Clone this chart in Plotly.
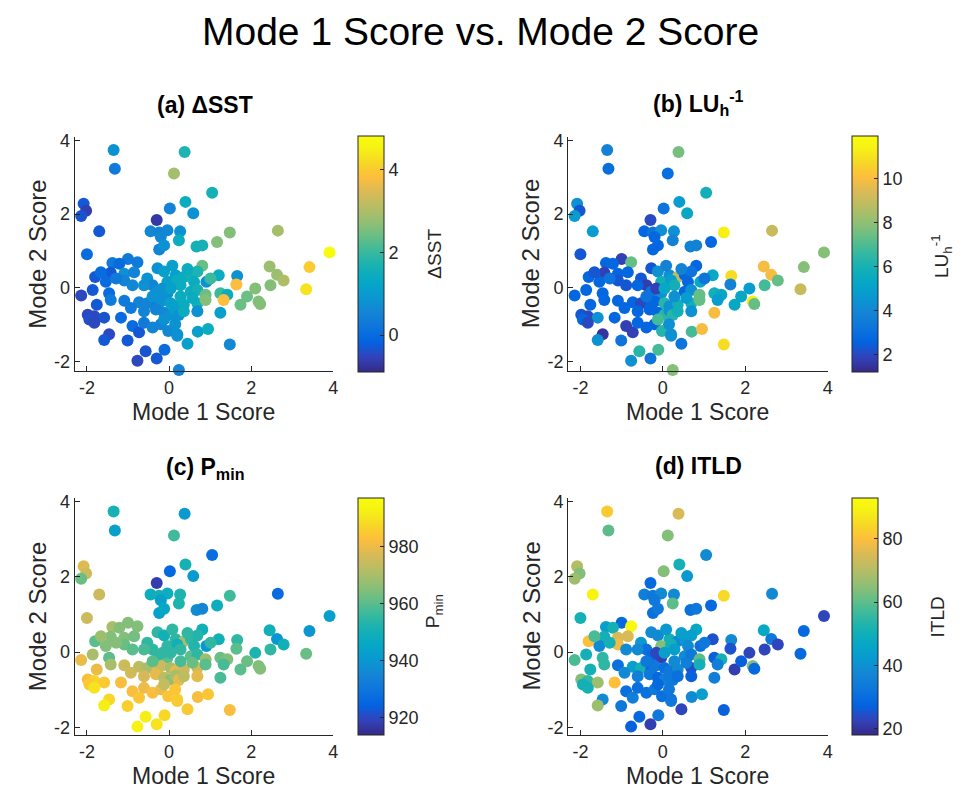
import plotly.graph_objects as go

# ---------------- data ----------------
mode1 = [-1.35, -1.32, 0.38, 0.12, 1.05, 0.40, -2.08, -2.02, -2.14, 0.02,
         0.59, -0.30, -1.70, 1.48, 2.65, -0.45, -0.24, -0.04, 0.27, -0.20,
         0.24, 1.17, 0.67, 0.81, -0.24, -0.12, 3.91, -2.00, -1.00, -0.77,
         -1.38, -1.21, 0.81, 3.42, 2.45, -0.28, -1.42, -1.09, -0.85, -0.12,
         0.16, 0.36, 0.53, 0.69, 1.21, 1.66, 2.63, 2.79, -1.80, -1.54,
         -1.09, -0.53, -0.40, -0.04, 0.20, 0.28, 0.61, 0.91, 1.64, 2.10,
         2.47, 3.34, -1.86, -2.31, -2.14, -1.46, -0.28, -0.04, 0.53, 0.69,
         0.89, 1.25, 1.42, -1.42, -1.09, -0.73, -0.53, -0.28, -0.20, 0.04,
         0.16, 0.36, 0.69, 0.89, 1.33, 1.74, 2.18, 2.22, -1.98, -1.82,
         -1.58, -1.17, -0.93, -0.32, -0.12, 0.04, 0.16, 0.24, 0.36, 0.69,
         1.25, -1.94, -1.82, -0.89, -0.73, -0.61, -0.40, -0.20, -0.12, -0.02,
         0.20, 0.15, 0.70, 0.95, -1.46, -1.58, -1.01, 0.20, 0.45, 1.48,
         -0.57, -0.11, -0.77, -0.30, 0.24, -1.66, -0.61, 0.08, 0.45, -0.40,
         -0.16, -1.29, -0.89, 1.01, 1.90, -1.76, 0.04, 0.28, 0.57, -0.61]

mode2 = [3.74, 3.23, 3.68, 3.10, 2.58, 2.33, 2.28, 2.09, 1.95, 2.15,
         2.02, 1.84, 1.53, 1.50, 1.55, 1.53, 1.50, 1.56, 1.53, 1.38,
         1.29, 1.24, 1.12, 1.15, 1.04, 1.15, 0.96, 0.91, 0.78, 0.69,
         0.67, 0.65, 0.60, 0.56, 0.58, 0.53, 0.41, 0.38, 0.42, 0.44,
         0.34, 0.29, 0.35, 0.44, 0.34, 0.32, 0.35, 0.20, 0.29, 0.16,
         0.20, 0.25, 0.07, 0.16, 0.20, 0.07, 0.16, 0.16, 0.09, -0.02,
         0.07, -0.04, -0.06, -0.15, -0.21, -0.15, -0.11, -0.15, -0.11, -0.06,
         -0.19, -0.15, -0.19, -0.33, -0.35, -0.39, -0.42, -0.46, -0.37, -0.42,
         -0.50, -0.46, -0.42, -0.33, -0.33, -0.46, -0.37, -0.44, -0.73, -0.77,
         -0.81, -0.81, -0.55, -0.59, -0.68, -0.73, -0.62, -0.74, -0.64, -0.64,
         -0.68, -0.86, -0.95, -1.04, -1.21, -0.95, -1.08, -0.99, -0.86, -1.17,
         -1.26, -0.99, -1.19, -1.12, -1.26, -1.42, -1.43, -1.30, -1.52, -1.54,
         -1.72, -1.68, -1.98, -1.92, -2.23, 0.42, 0.07, 0.60, 0.51, -0.24,
         -0.02, 0.25, 0.07, 0.25, -0.24, -0.46, -0.02, -0.24, -0.28, -0.64]

dsst = [0.8, 0.3, 1.7, 2.9, 1.6, 1.4, -0.3, -0.6, -0.35, 0.5,
        0.8, -0.7, -0.3, 2.6, 2.9, 0.6, 0.5, 0.6, 0.8, 0.6,
        1.4, 2.6, 1.6, 1.6, 0.5, 0.8, 4.8, 0.0, 0.3, 0.3,
        0.3, 0.0, 2.4, 4.0, 2.8, 0.8, -0.3, 0.8, 0.5, 1.1,
        1.1, 1.4, 1.6, 1.7, 1.4, 0.8, 2.8, 3.0, -0.3, 0.0,
        0.5, 0.8, 0.5, 1.1, 1.4, 1.4, 1.4, 0.8, 3.8, 2.6,
        2.6, 4.3, -0.3, 0.0, -0.5, 0.0, 0.8, 0.8, 1.4, 1.6,
        2.4, 2.0, 1.4, 0.3, 0.3, 0.5, 0.5, 0.3, 0.8, 1.1,
        1.1, 1.4, 1.6, 2.6, 3.8, 2.4, 2.6, 2.6, -0.5, -0.5,
        -0.35, 0.0, 0.3, 0.5, 0.6, 0.8, 1.1, 0.8, 1.4, 0.8,
        1.1, -0.4, -0.5, 0.0, -0.3, 0.3, 0.5, 0.5, 0.8, 0.6,
        0.8, 0.8, 1.1, 1.4, -0.5, -0.3, -0.3, 0.8, 1.1, 0.6,
        -0.35, 0.0, -0.5, -0.3, 0.5, 0.0, 0.8, 1.1, 1.4, 0.8,
        0.8, 0.3, 0.6, 2.0, 2.4, -0.3, 1.1, 1.4, 1.4, 0.5]

lu_inv = [3.8, 3.0, 7.6, 3.0, 5.8, 4.8, 4.3, 2.3, 4.8, 3.2,
          5.3, 2.0, 4.8, 11.3, 9.0, 2.7, 3.2, 4.3, 4.3, 2.7,
          3.8, 2.7, 3.8, 3.8, 2.7, 2.7, 7.8, 2.3, 1.8, 7.3,
          2.7, 2.7, 2.7, 7.8, 9.9, 2.3, 1.8, 2.7, 2.7, 4.3,
          4.3, 8.8, 2.7, 3.2, 5.3, 10.8, 9.9, 7.3, 2.7, 2.7,
          2.3, 2.3, 1.7, 5.8, 4.8, 5.8, 2.7, 5.3, 3.8, 4.8,
          6.8, 9.0, 2.7, 1.8, 2.7, 2.7, 3.2, 4.3, 2.7, 4.3,
          7.3, 5.8, 5.3, 2.7, 2.7, 2.7, 2.0, 2.7, 2.7, 6.3,
          4.3, 5.8, 5.8, 7.3, 4.8, 5.3, 11.3, 7.3, 2.3, 2.0,
          4.3, 2.7, 2.7, 2.7, 2.7, 6.3, 4.3, 6.3, 5.8, 4.3,
          9.9, 2.7, 2.0, 1.8, 1.8, 2.7, 2.7, 2.7, 6.8, 6.3,
          4.3, 4.3, 6.8, 9.9, 1.5, 4.3, 3.2, 4.3, 3.2, 10.8,
          6.3, 6.8, 4.3, 3.2, 7.8, 2.3, 2.7, 3.8, 3.8, 3.2,
          1.8, 3.2, 2.3, 3.2, 5.3, 2.7, 5.3, 4.3, 4.8, 2.7]

pmin = [951, 943, 941, 957, 928, 951, 978, 975, 962, 926,
        941, 918, 975, 957, 927, 948, 950, 948, 952, 943,
        952, 948, 937, 935, 943, 946, 943, 975, 965, 965,
        970, 965, 950, 940, 950, 955, 965, 965, 963, 950,
        955, 970, 955, 953, 950, 955, 940, 950, 960, 965,
        962, 955, 955, 955, 950, 955, 953, 940, 960, 952,
        955, 962, 970, 975, 980, 960, 955, 960, 960, 955,
        968, 962, 965, 970, 975, 973, 970, 979, 975, 970,
        979, 975, 976, 960, 958, 960, 965, 965, 982, 987,
        985, 982, 976, 979, 973, 966, 970, 979, 973, 979,
        958, 985, 990, 982, 984, 980, 982, 980, 974, 984,
        986, 984, 982, 984, 988, 992, 986, 985, 985, 982,
        992, 988, 993, 990, 995, 968, 958, 955, 955, 960,
        955, 965, 960, 955, 962, 980, 955, 958, 962, 977]

itld = [82, 60, 75, 64, 38, 51, 70, 64, 67, 64,
        42, 29, 90, 85, 38, 35, 33, 38, 38, 33,
        60, 29, 31, 33, 31, 33, 23, 51, 29, 92,
        44, 51, 47, 29, 47, 38, 51, 75, 75, 38,
        51, 38, 42, 44, 25, 38, 33, 23, 80, 38,
        78, 42, 31, 64, 51, 44, 38, 31, 25, 23,
        23, 29, 51, 82, 58, 55, 29, 22, 38, 33,
        60, 27, 51, 55, 31, 44, 51, 29, 33, 31,
        33, 38, 25, 51, 35, 22, 64, 29, 64, 55,
        67, 80, 38, 33, 29, 35, 33, 33, 31, 27,
        35, 51, 51, 31, 35, 31, 31, 33, 29, 31,
        31, 33, 38, 44, 38, 67, 33, 33, 23, 27,
        29, 33, 27, 22, 29, 58, 38, 42, 44, 33,
        23, 51, 38, 33, 27, 51, 44, 38, 35, 35]

tick_vals = [-2, 0, 2, 4]
tick_text = ["-2", "0", "2", "4"]

panel_titles = ["<b>(a) ΔSST</b>", "<b>(b) LU<sub>h</sub><sup>-1</sup></b>",
                "<b>(c) P<sub>min</sub></b>", "<b>(d) ITLD</b>"]
cbar_titles = ["ΔSST", "LU<sub>h</sub><sup>-1</sup>", "P<sub>min</sub>", "ITLD"]
cbar_ticks = [[0, 2, 4], [2, 4, 6, 8, 10], [920, 940, 960, 980], [20, 40, 60, 80]]
cbar_ranges = [(-0.9, 4.8), (1.2, 11.9), (914, 997), (18, 93)]
color_data = [dsst, lu_inv, pmin, itld]
x_label = "Mode 1 Score"
y_label = "Mode 2 Score"

# MATLAB parula colormap (sampled)
parula = [
    [0.000, "rgb(53,42,135)"],
    [0.063, "rgb(50,67,186)"],
    [0.127, "rgb(3,99,225)"],
    [0.190, "rgb(13,117,220)"],
    [0.254, "rgb(20,133,212)"],
    [0.317, "rgb(9,152,209)"],
    [0.381, "rgb(6,167,198)"],
    [0.444, "rgb(21,177,180)"],
    [0.508, "rgb(56,185,158)"],
    [0.571, "rgb(101,190,134)"],
    [0.635, "rgb(146,191,115)"],
    [0.698, "rgb(183,189,100)"],
    [0.762, "rgb(217,186,86)"],
    [0.825, "rgb(253,190,61)"],
    [0.889, "rgb(247,216,38)"],
    [0.952, "rgb(246,243,19)"],
    [1.000, "rgb(249,251,14)"],
]

# ---------------- layout geometry (pixels) ----------------
W, H = 967, 810
FONT = "Liberation Sans, Arial, Helvetica, sans-serif"
AX = "#262626"


def fx(p):
    return p / W


def fy(p):
    return 1 - p / H


# (left, right, top, bottom) of each axes box in pixels
boxes = [(75, 335, 132, 369), (571, 832, 132, 369),
         (75, 335, 497, 737), (571, 832, 497, 737)]
yranges = [[-2.27, 4.08], [-2.27, 4.08], [-2.2, 4.1], [-2.2, 4.1]]
cbar_boxes = [(360, 131, 370), (856, 131, 370), (360, 497, 737), (856, 497, 737)]
title_pos = [(206, 99), (702, 97), (206, 467), (702, 465)]
cbtitle_pos = [(437, 250), (947, 252), (437, 612), (942, 618)]
xlab_pos = [(205, 410), (701, 410), (205, 779), (701, 779)]
ylab_pos = [(38, 250), (534, 250), (38, 617), (534, 617)]

fig = go.Figure()
annotations = []
for i in range(4):
    l, r, t, b = boxes[i]
    sfx = "" if i == 0 else str(i + 1)
    cx, ct, cb = cbar_boxes[i]
    cmin, cmax = cbar_ranges[i]
    fig.add_trace(go.Scatter(
        x=mode1, y=mode2, mode="markers",
        xaxis="x" + sfx, yaxis="y" + sfx,
        cliponaxis=False, showlegend=False,
        marker=dict(
            size=12, color=color_data[i], colorscale=parula,
            cmin=cmin, cmax=cmax, line=dict(width=0), opacity=1,
            showscale=True,
            colorbar=dict(
                x=fx(cx), xanchor="left", xpad=0,
                y=fy(cb), yanchor="bottom", ypad=0,
                len=(cb - ct) / H, lenmode="fraction",
                thickness=26, thicknessmode="pixels",
                outlinewidth=1, outlinecolor=AX,
                tickvals=cbar_ticks[i], ticks="inside", ticklen=4,
                tickcolor=AX,
                tickfont=dict(family=FONT, size=18, color=AX),
            ),
        ),
    ))
    axcommon = dict(showline=True, linecolor=AX, linewidth=1, mirror=False,
                    showgrid=False, zeroline=False, ticks="inside",
                    ticklen=5, tickcolor=AX, tickvals=tick_vals,
                    ticktext=tick_text,
                    tickfont=dict(family=FONT, size=18, color=AX))
    fig.layout["xaxis" + sfx] = dict(
        domain=[fx(l), fx(r)], anchor="y" + sfx, range=[-2.3, 4.0], **axcommon)
    fig.layout["yaxis" + sfx] = dict(
        domain=[fy(b), fy(t)], anchor="x" + sfx, range=yranges[i], **axcommon)

    tx, ty = title_pos[i]
    annotations.append(dict(text=panel_titles[i], x=fx(tx), y=fy(ty),
                            xref="paper", yref="paper", showarrow=False,
                            xanchor="center", yanchor="middle",
                            font=dict(family=FONT, size=23, color="black")))
    ctx, cty = cbtitle_pos[i]
    annotations.append(dict(text=cbar_titles[i], x=fx(ctx), y=fy(cty),
                            xref="paper", yref="paper", showarrow=False,
                            textangle=-90, xanchor="center", yanchor="middle",
                            font=dict(family=FONT, size=19, color=AX)))
    lx, ly = xlab_pos[i]
    annotations.append(dict(text=x_label, x=fx(lx), y=fy(ly),
                            xref="paper", yref="paper", showarrow=False,
                            xanchor="center", yanchor="middle",
                            font=dict(family=FONT, size=23, color=AX)))
    vx, vy = ylab_pos[i]
    annotations.append(dict(text=y_label, x=fx(vx), y=fy(vy),
                            xref="paper", yref="paper", showarrow=False,
                            textangle=-90, xanchor="center", yanchor="middle",
                            font=dict(family=FONT, size=24, color=AX)))

annotations.append(dict(text="Mode 1 Score vs. Mode 2 Score", x=fx(483), y=fy(25),
                        xref="paper", yref="paper", showarrow=False,
                        xanchor="center", yanchor="middle",
                        font=dict(family=FONT, size=39, color="black")))

fig.update_layout(
    width=W, height=H, margin=dict(l=0, r=0, t=0, b=0),
    paper_bgcolor="white", plot_bgcolor="white",
    annotations=annotations,
)

fig.write_html("out.html")
